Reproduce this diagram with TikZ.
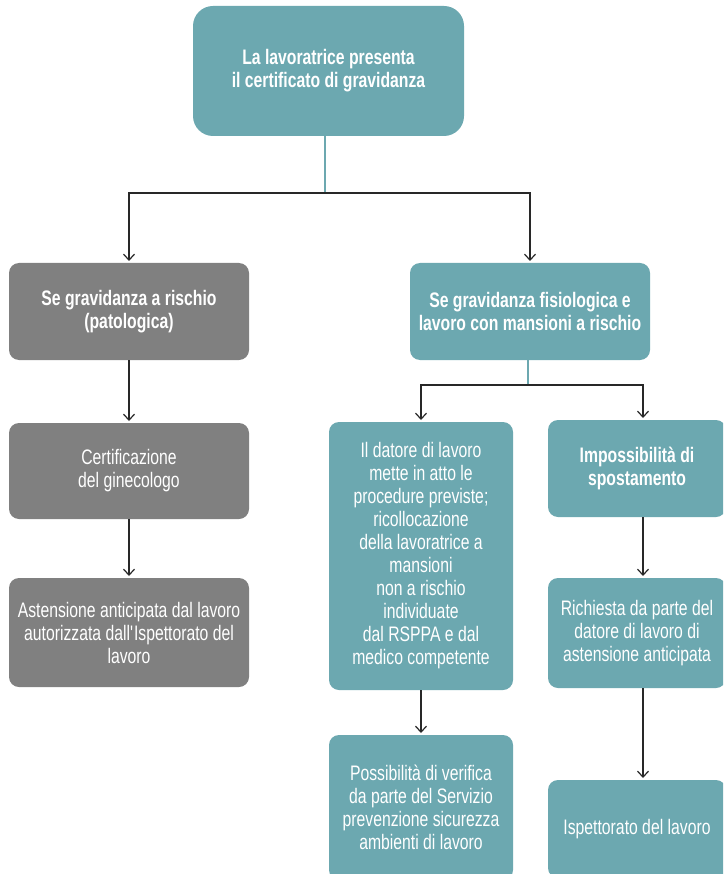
\documentclass[tikz,border=0pt]{standalone}
\usepackage{fontspec}
\setmainfont{Liberation Sans}[FakeStretch=0.75]
\usetikzlibrary{arrows.meta,calc}
\definecolor{tealfill}{RGB}{108,168,176}
\definecolor{grayfill}{RGB}{128,128,128}
\definecolor{linecol}{RGB}{40,40,40}
\begin{document}
\begin{tikzpicture}[x=1pt,y=-1pt,
  basebox/.style={rounded corners=10pt, text=white, align=center, inner sep=0pt, outer sep=0pt,
    font=\fontsize{21}{23}\selectfont},
  boldbox/.style={font=\fontsize{21}{23}\selectfont\bfseries},
  tbox/.style={basebox, fill=tealfill},
  gbox/.style={basebox, fill=grayfill},
  conn/.style={draw=linecol, line width=1.2pt, -{Straight Barb[length=6pt,width=11pt,line width=1.2pt]}, shorten >=2pt},
  tline/.style={draw=tealfill, line width=1.2pt}]
\useasboundingbox (0,0) rectangle (723,874);
\clip (0,0) rectangle (723,874);
\fill[white] (0,0) rectangle (723,874);

% nodes
\node[tbox, boldbox, rounded corners=20pt, minimum width=271pt, minimum height=130pt] (top) at (328.5,71)
  {La lavoratrice presenta\\il certificato di gravidanza};

\node[gbox, boldbox, minimum width=240pt, minimum height=97pt] (l1) at (129,311.5)
  {Se gravidanza a rischio\\(patologica)};
\node[gbox, minimum width=240pt, minimum height=96pt] (l2) at (129,471)
  {Certificazione\\del ginecologo};
\node[gbox, minimum width=240pt, minimum height=109pt] (l3) at (129,632.5)
  {Astensione anticipata dal lavoro\\autorizzata dall\textquotesingle Ispettorato del\\lavoro};

\node[tbox, boldbox, minimum width=240pt, minimum height=97pt] (r1) at (530,311.5)
  {Se gravidanza fisiologica e\\lavoro con mansioni a rischio};

\node[tbox, minimum width=184pt, minimum height=268pt] (d) at (421,556)
  {Il datore di lavoro\\mette in atto le\\procedure previste;\\ricollocazione\\della lavoratrice a\\mansioni\\non a rischio\\individuate\\dal RSPPA e dal\\medico competente};
\node[tbox, minimum width=184pt, minimum height=145pt] (p) at (421,807.5)
  {Possibilità di verifica\\da parte del Servizio\\prevenzione sicurezza\\ambienti di lavoro};

\node[tbox, boldbox, minimum width=178pt, minimum height=97pt] (i) at (637,468.5)
  {Impossibilità di\\spostamento};
\node[tbox, minimum width=178pt, minimum height=110pt] (rq) at (637,633)
  {Richiesta da parte del\\datore di lavoro di\\astensione anticipata};
\node[tbox, minimum width=178pt, minimum height=98pt] (is) at (637,829)
  {Ispettorato del lavoro};

% junctions
\coordinate (s1) at (325,193);
\coordinate (s2) at (528,385);
\coordinate (c3) at (643,0);

% connectors
\draw[tline] (s1 |- top.south) -- (s1);
\draw[conn] (s1) -| (l1.north);
\draw[conn] (s1) -| (r1.north);
\draw[conn] (l1.south) -- (l2.north);
\draw[conn] (l2.south) -- (l3.north);

\draw[tline] (s2 |- r1.south) -- (s2);
\draw[conn] (s2) -| (d.north);
\draw[conn] (s2) -| (c3 |- i.north);
\draw[conn] (d.south) -- (p.north);
\draw[conn] (c3 |- i.south) -- (c3 |- rq.north);
\draw[conn] (c3 |- rq.south) -- (c3 |- is.north);
\end{tikzpicture}
\end{document}
